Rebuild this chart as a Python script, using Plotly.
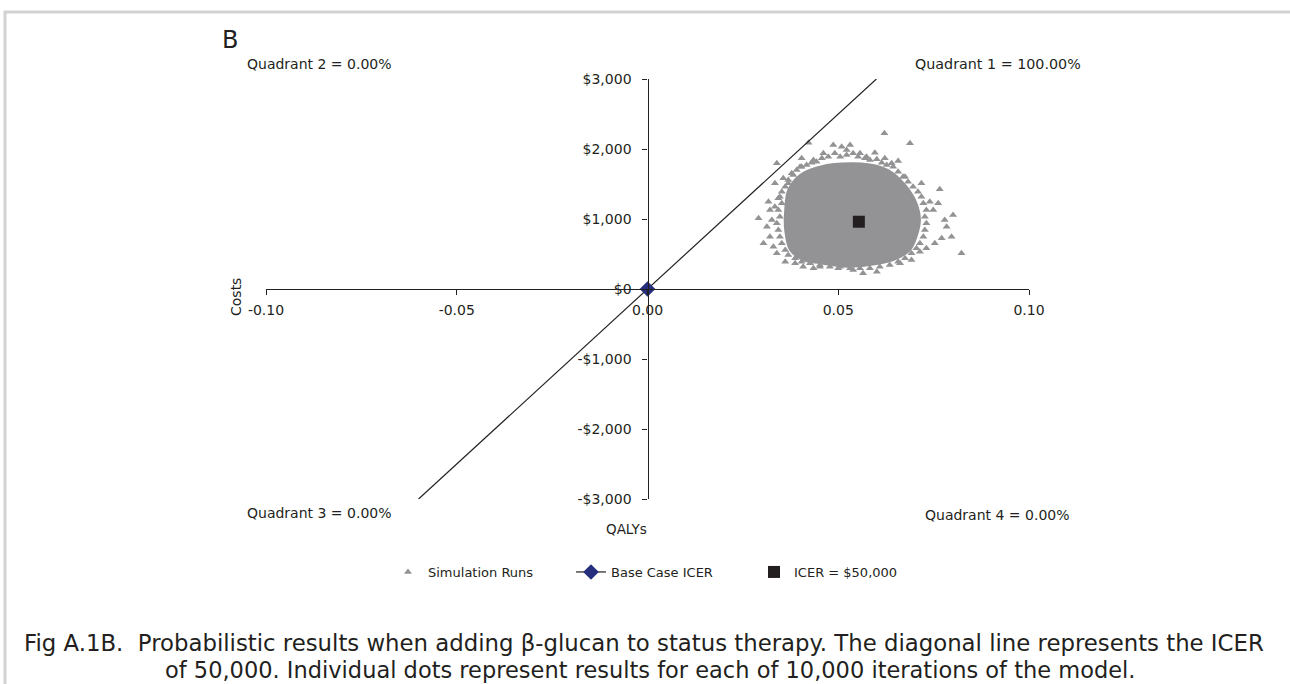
import plotly.graph_objects as go

W, H = 1290, 684
ML, MR, MT, MB = 266, 261, 79, 185
PW, PH = W - ML - MR, H - MT - MB

# ---------------- data ----------------
x_ticks = [-0.10, -0.05, 0.0, 0.05, 0.10]
x_tick_labels = ["-0.10", "-0.05", "0.00", "0.05", "0.10"]
y_ticks = [-3000, -2000, -1000, 0, 1000, 2000, 3000]
y_tick_labels = ["-$3,000", "-$2,000", "-$1,000", "$0", "$1,000", "$2,000", "$3,000"]

icer_line_qalys = [-0.06, 0.06]
icer_line_costs = [-3000, 3000]

base_case_qalys = [0.0]
base_case_costs = [0]

icer_point_qalys = [0.0554]
icer_point_costs = [961]

# dense core of the 10,000 simulation runs (outline)
cloud_core_qalys = [0.0452, 0.0539, 0.0609, 0.0644, 0.0679, 0.0705, 0.0714, 0.0705,
                    0.0688, 0.0644, 0.0583, 0.0522, 0.0452, 0.0408, 0.0374, 0.0361,
                    0.0361, 0.0369, 0.0400]
cloud_core_costs = [1748, 1795, 1748, 1652, 1462, 1224, 986, 747,
                    557, 414, 343, 319, 367, 414, 557, 843,
                    1129, 1414, 1629]

# individually visible simulation runs around the dense core
sim_qalys = [
    # outer fringe
    0.0621, 0.0688, 0.0422, 0.0339, 0.0291, 0.0304, 0.0823, 0.0766, 0.0801, 0.0797,
    0.0487, 0.0509, 0.0531, 0.0596, 0.0461, 0.0404, 0.0557, 0.0657, 0.0640, 0.0675,
    0.0718, 0.0740, 0.0762, 0.0749, 0.0779, 0.0784, 0.0771, 0.0753, 0.0731, 0.0714,
    0.0692, 0.0662, 0.0601, 0.0565, 0.0539, 0.0500, 0.0452, 0.0435, 0.0408, 0.0387,
    0.0361, 0.0339, 0.0330, 0.0321, 0.0313, 0.0326, 0.0317, 0.0334, 0.0321, 0.0347,
    0.0334, 0.0356, 0.0369, 0.0378, 0.0400, 0.0435, 0.0522, 0.0574, 0.0622,
    # band next to the core
    0.0443, 0.0457, 0.0474, 0.0491, 0.0505, 0.0522, 0.0539, 0.0552, 0.0570, 0.0583,
    0.0601, 0.0614, 0.0627, 0.0644,
    0.0391, 0.0404, 0.0417, 0.0430, 0.0382, 0.0369, 0.0361, 0.0352, 0.0343,
    0.0352, 0.0343, 0.0347, 0.0339, 0.0343, 0.0347, 0.0352, 0.0361, 0.0369,
    0.0387, 0.0404, 0.0426, 0.0452, 0.0478, 0.0505, 0.0531, 0.0557, 0.0583, 0.0609,
    0.0635, 0.0657, 0.0675, 0.0692,
    0.0705, 0.0714, 0.0723, 0.0727, 0.0731, 0.0727, 0.0731, 0.0723, 0.0718, 0.0709,
    0.0696, 0.0683, 0.0670, 0.0657,
]
sim_costs = [
    2224, 2081, 2090, 1795, 1010, 653, 510, 1424, 1057, 747,
    2057, 2033, 2057, 1948, 1938, 1867, 1938, 1829, 1795, 1605,
    1510, 1248, 1224, 1129, 986, 890, 724, 653, 581, 533,
    414, 367, 248, 224, 271, 295, 319, 295, 319, 367,
    390, 510, 605, 747, 890, 986, 1248, 1176, 1129, 1319,
    1510, 1581, 1510, 1652, 1748, 1843, 1986, 1890, 1867,
    1819, 1867, 1890, 1938, 1890, 1914, 1938, 1890, 1867, 1843,
    1852, 1805, 1771, 1748,
    1700, 1748, 1771, 1805, 1629, 1557, 1462, 1390, 1295,
    1224, 1129, 1033, 938, 843, 747, 653, 557, 486,
    438, 390, 367, 343, 319, 319, 295, 295, 295, 319,
    343, 390, 438, 510,
    581, 653, 747, 843, 938, 1033, 1129, 1224, 1319, 1390,
    1462, 1533, 1605, 1676,
]

# ---------------- styling ----------------
INK = "#231F20"
GRAY = "#939395"
NAVY = "#262F7D"
FONT = "DejaVu Sans"


def px_x(p):
    return (p - ML) / PW


def px_y(p):
    return (H - MB - p) / PH


fig = go.Figure()

fig.add_trace(go.Scatter(
    x=cloud_core_qalys + cloud_core_qalys[:1], y=cloud_core_costs + cloud_core_costs[:1],
    mode="lines", fill="toself", fillcolor=GRAY,
    line=dict(color=GRAY, width=2, shape="spline"),
    showlegend=False, hoverinfo="skip"))

fig.add_trace(go.Scatter(
    x=sim_qalys, y=sim_costs, mode="markers", name="Simulation Runs",
    marker=dict(symbol="triangle-up", size=7, color=GRAY)))

fig.add_trace(go.Scatter(
    x=icer_line_qalys, y=icer_line_costs, mode="lines",
    line=dict(color=INK, width=1.2), showlegend=False, hoverinfo="skip"))

fig.add_trace(go.Scatter(
    x=base_case_qalys, y=base_case_costs, mode="lines+markers", name="Base Case ICER",
    line=dict(color=INK, width=1.2),
    marker=dict(symbol="diamond", size=12, color=NAVY)))

fig.add_trace(go.Scatter(
    x=icer_point_qalys, y=icer_point_costs, mode="markers", name="ICER = $50,000",
    marker=dict(symbol="square", size=12, color=INK)))

axis_common = dict(showgrid=False, zeroline=False, showline=True, linecolor=INK,
                   linewidth=1.3, ticks="outside", ticklen=5, tickwidth=1.3, tickcolor=INK,
                   tickfont=dict(family=FONT, size=14, color=INK), anchor="free", position=0.5)

fig.update_layout(
    width=W, height=H,
    margin=dict(l=ML, r=MR, t=MT, b=MB),
    paper_bgcolor="white", plot_bgcolor="white",
    font=dict(family=FONT, color=INK, size=14),
    xaxis=dict(range=[-0.1, 0.1], tickvals=x_ticks, ticktext=x_tick_labels,
               ticklabelstandoff=3, **axis_common),
    yaxis=dict(range=[-3000, 3000], tickvals=y_ticks, ticktext=y_tick_labels,
               ticklabelstandoff=8, **axis_common),
    legend=dict(orientation="h", x=px_x(388), xanchor="left", y=px_y(572), yanchor="middle",
                font=dict(family=FONT, size=13, color=INK), entrywidth=138,
                bgcolor="rgba(0,0,0,0)"),
    showlegend=True,
)

ann = [
    ("B", 220, 40, "left", 24, 0),
    ("Quadrant 2 = 0.00%", 245, 64, "left", 14, 0),
    ("Quadrant 1 = 100.00%", 913, 64, "left", 14.3, 0),
    ("Quadrant 3 = 0.00%", 245, 513, "left", 14, 0),
    ("Quadrant 4 = 0.00%", 923, 515, "left", 14, 0),
    ("QALYs", 626, 529, "center", 13.5, 0),
    ("Costs", 236, 297, "center", 14, -90),
    ("Fig A.1B.  Probabilistic results when adding \u03b2-glucan to status therapy. "
     "The diagonal line represents the ICER", 22, 643, "left", 22.8, 0),
    ("of 50,000. Individual dots represent results for each of 10,000 iterations of the model.",
     163, 670, "left", 22.5, 0),
]
for text, x, y, anchor, size, angle in ann:
    fig.add_annotation(text=text, xref="paper", yref="paper", x=px_x(x), y=px_y(y),
                       xanchor=anchor, yanchor="middle", showarrow=False, textangle=angle,
                       font=dict(family=FONT, size=size, color=INK))

BORDER = "#D2D2D2"
fig.add_shape(type="line", xref="paper", yref="paper", x0=px_x(4), x1=px_x(1290),
              y0=px_y(12), y1=px_y(12), line=dict(color=BORDER, width=3))
fig.add_shape(type="line", xref="paper", yref="paper", x0=px_x(5), x1=px_x(5),
              y0=px_y(11), y1=px_y(684), line=dict(color=BORDER, width=3))

fig.write_html("out.html")
